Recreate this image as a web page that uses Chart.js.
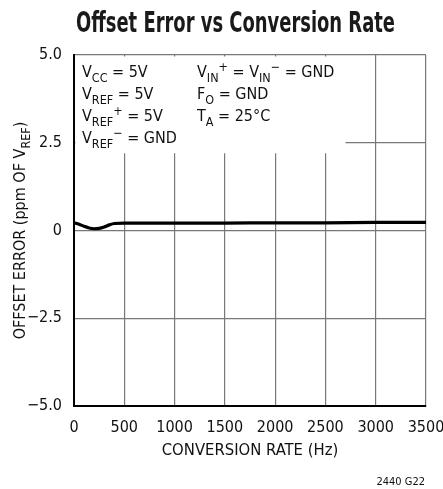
<!DOCTYPE html>
<html>
<head>
<meta charset="utf-8">
<script src="https://cdn.jsdelivr.net/npm/chart.js@4.4.1/dist/chart.umd.min.js"></script>
<style>
  html, body { margin: 0; padding: 0; background: #fff; }
  #wrap { width: 443px; height: 489px; }
</style>
</head>
<body>
<div id="wrap"><canvas id="chart"></canvas></div>
<script>
// conversion rate (Hz) and offset error (ppm of VREF)
const rates   = [0, 50, 100, 150, 200, 250, 300, 350, 400, 500, 1000, 1500, 2000, 2500, 3000, 3500];
const offsets = [0.22, 0.18, 0.12, 0.07, 0.05, 0.06, 0.10, 0.16, 0.20, 0.21, 0.21, 0.21, 0.22, 0.22, 0.23, 0.23];

const xTicks = [0, 500, 1000, 1500, 2000, 2500, 3000, 3500];
const xTickLabels = ['0', '500', '1000', '1500', '2000', '2500', '3000', '3500'];
const yTicks = [-5, -2.5, 0, 2.5, 5];
const yTickLabels = ['\u22125.0', '\u22122.5', '0', '2.5', '5.0'];

const chartTitle = 'Offset Error vs Conversion Rate';
const xTitle = 'CONVERSION RATE (Hz)';
const figId = '2440 G22';

// condition notes, [text, 'sub' | 'sup' | ''] parts per line
const notesLeft = [
  [['V', ''], ['CC', 'sub'], [' = 5V', '']],
  [['V', ''], ['REF', 'sub'], [' = 5V', '']],
  [['V', ''], ['REF', 'sub'], ['+', 'sup'], [' = 5V', '']],
  [['V', ''], ['REF', 'sub'], ['\u2212', 'sup'], [' = GND', '']]
];
const notesRight = [
  [['V', ''], ['IN', 'sub'], ['+', 'sup'], [' = V', ''], ['IN', 'sub'], ['\u2212', 'sup'], [' = GND', '']],
  [['F', ''], ['O', 'sub'], [' = GND', '']],
  [['T', ''], ['A', 'sub'], [' = 25\u00B0C', '']]
];
const yTitleParts = [['OFFSET ERROR (ppm OF V', ''], ['REF', 'sub'], [')', '']];

const FONT = "'Liberation Sans Narrow', 'DejaVu Sans Condensed', 'Liberation Sans', sans-serif";

function drawRich(ctx, x, y, parts, size) {
  parts.forEach(([txt, kind]) => {
    let s = size, dy = 0;
    if (kind === 'sub') { s = size * 0.78; dy = size * 0.3; }
    if (kind === 'sup') { s = size * 0.78; dy = -size * 0.38; }
    ctx.font = s + 'px ' + FONT;
    ctx.fillText(txt, x, y + dy);
    x += ctx.measureText(txt).width;
  });
}

function richWidth(ctx, parts, size) {
  let w = 0;
  parts.forEach(([txt, kind]) => {
    const s = kind ? size * 0.78 : size;
    ctx.font = s + 'px ' + FONT;
    w += ctx.measureText(txt).width;
  });
  return w;
}

const decor = {
  id: 'decor',
  beforeDatasetsDraw(chart) {
    const { ctx, scales: { x, y } } = chart;
    // blank the grid behind the notes box
    ctx.save();
    ctx.fillStyle = '#fff';
    const l = x.left + 1.5, t = y.top + 1.5;
    ctx.fillRect(l, t, x.getPixelForValue(2700) - l, y.getPixelForValue(2.2) - t);
    ctx.restore();
  },
  afterDraw(chart) {
    const { ctx, scales: { x, y } } = chart;
    ctx.save();
    ctx.fillStyle = '#111';
    ctx.textBaseline = 'alphabetic';
    ctx.textAlign = 'left';
    notesLeft.forEach((ln, i) => drawRich(ctx, x.left + 8, y.top + 22 + i * 22, ln, 16));
    notesRight.forEach((ln, i) => drawRich(ctx, x.left + 123, y.top + 22 + i * 22, ln, 16));

    // title: big bold, squeezed to a condensed look (about 319px wide)
    ctx.save();
    ctx.textAlign = 'center';
    ctx.font = 'bold 29px ' + FONT;
    const tw = ctx.measureText(chartTitle).width;
    ctx.translate(235.5, 32);
    ctx.scale(319 / tw, 1);
    ctx.fillStyle = '#1a1a1a';
    ctx.fillText(chartTitle, 0, 0);
    ctx.restore();

    // x axis title
    ctx.textAlign = 'center';
    ctx.font = '16.5px ' + FONT;
    ctx.fillText(xTitle, (x.left + x.right) / 2, 455);

    // figure id
    ctx.textAlign = 'right';
    ctx.font = '11px ' + FONT;
    ctx.fillText(figId, 425, 485);

    // y axis title, rotated
    ctx.translate(25, (y.top + y.bottom) / 2);
    ctx.rotate(-Math.PI / 2);
    ctx.textAlign = 'left';
    const w = richWidth(ctx, yTitleParts, 16);
    drawRich(ctx, -w / 2, 0, yTitleParts, 16);
    ctx.restore();
  }
};

Chart.defaults.font.family = FONT;
Chart.defaults.color = '#111';

new Chart(document.getElementById('chart'), {
  type: 'line',
  data: {
    datasets: [{
      data: rates.map((r, i) => ({ x: r, y: offsets[i] })),
      borderColor: '#000',
      borderWidth: 3.2,
      pointRadius: 0,
      cubicInterpolationMode: 'monotone',
      fill: false
    }]
  },
  options: {
    responsive: true,
    maintainAspectRatio: false,
    animation: false,
    devicePixelRatio: 1,
    layout: { padding: { top: 55, right: 17, left: 0, bottom: 0 } },
    plugins: { legend: { display: false }, tooltip: { enabled: false } },
    scales: {
      x: {
        type: 'linear',
        min: 0, max: 3500,
        afterFit: s => { s.height = 83; s.paddingLeft = 0; s.paddingRight = 0; },
        afterBuildTicks: s => { s.ticks = xTicks.map(v => ({ value: v })); },
        ticks: {
          font: { size: 16 }, padding: 12, maxRotation: 0, color: '#111',
          callback: v => xTickLabels[xTicks.indexOf(v)]
        },
        grid: { color: '#777', lineWidth: 1.2, drawTicks: false },
        border: { color: '#000', width: 2 }
      },
      y: {
        min: -5, max: 5,
        afterFit: s => { s.width = 74; s.paddingTop = 0; s.paddingBottom = 0; },
        afterBuildTicks: s => { s.ticks = yTicks.map(v => ({ value: v })); },
        ticks: {
          font: { size: 16 }, padding: 12, color: '#111',
          callback: v => yTickLabels[yTicks.indexOf(v)]
        },
        grid: { color: '#777', lineWidth: 1.2, drawTicks: false },
        border: { color: '#000', width: 2 }
      }
    }
  },
  plugins: [decor]
});
</script>
</body>
</html>
